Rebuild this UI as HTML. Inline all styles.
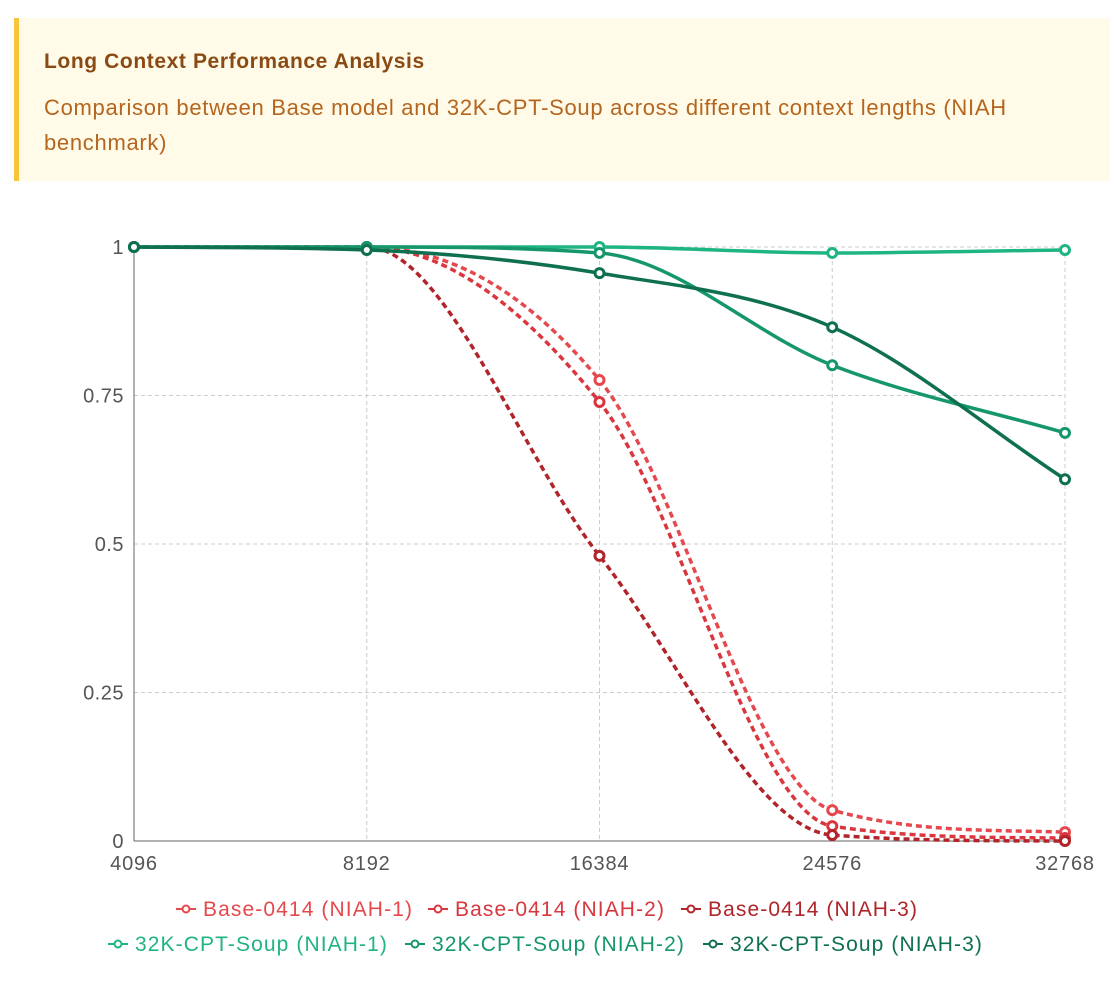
<!DOCTYPE html>
<html><head><meta charset="utf-8">
<style>
body{margin:0;background:#fff;font-family:"Liberation Sans","DejaVu Sans",sans-serif;width:1116px;height:991px;overflow:hidden}
.note{position:absolute;left:14px;top:18px;width:1096px;height:163px;background:#fffbe8;border-left:5px solid #f8c43a;box-sizing:border-box}
.note h1{margin:0;position:absolute;left:25px;top:32px;font-size:21px;letter-spacing:0.6px;font-weight:bold;color:#8a4a14}
.note p{margin:0;position:absolute;left:25px;top:72px;width:1060px;font-size:22px;letter-spacing:0.7px;line-height:35px;color:#b5651d}
svg{position:absolute;left:0;top:0}
</style></head><body>
<div class="note">
<h1>Long Context Performance Analysis</h1>
<p>Comparison between Base model and 32K-CPT-Soup across different context lengths (NIAH<br>benchmark)</p>
</div>
<svg id="chart" width="1116" height="991"></svg>
<script>
const categories=["4096","8192","16384","24576","32768"];
const yTicks=[0,0.25,0.5,0.75,1];
const yTickLabels=["0","0.25","0.5","0.75","1"];
const seriesNames=["Base-0414 (NIAH-1)","Base-0414 (NIAH-2)","Base-0414 (NIAH-3)","32K-CPT-Soup (NIAH-1)","32K-CPT-Soup (NIAH-2)","32K-CPT-Soup (NIAH-3)"];
const base1=[1,1,0.776,0.052,0.015];
const base2=[1,1,0.739,0.025,0.005];
const base3=[1,1,0.48,0.01,0];
const soup1=[1,1,1,0.99,0.995];
const soup2=[1,1,0.99,0.801,0.687];
const soup3=[1,0.995,0.956,0.865,0.609];
const allSeries=[base1,base2,base3,soup1,soup2,soup3];
const colors=["#e5484d","#d9363e","#b0242a","#1fb483","#16976a","#0f7050"];
const dashed=[true,true,true,false,false,false];
const L=134,R=1065,T=247,B=841;
const xs=i=>L+(R-L)*i/(categories.length-1);
const ys=v=>B-(B-T)*v;
const svg=document.getElementById('chart');const NS="http://www.w3.org/2000/svg";
function mk(t,a,p){const e=document.createElementNS(NS,t);for(const k in a)e.setAttribute(k,a[k]);(p||svg).appendChild(e);return e;}
yTicks.forEach((v,i)=>{
 if(v>0){const g=mk('line',{x1:L,x2:R,y1:ys(v),y2:ys(v),stroke:'#ccc','stroke-dasharray':'4 3'});
 }
 const t=mk('text',{x:L-10,y:ys(v)+7,'text-anchor':'end','font-size':20,'letter-spacing':0.5,fill:'#555'});t.textContent=yTickLabels[i];
 
});
categories.forEach((c,i)=>{
 if(i>0){const g=mk('line',{x1:xs(i),x2:xs(i),y1:T,y2:B,stroke:'#ccc','stroke-dasharray':'4 3'});
 }
 const t=mk('text',{x:xs(i),y:B+29,'text-anchor':'middle','font-size':20,'letter-spacing':0.8,fill:'#555'});t.textContent=c;
 
});
const ax=mk('line',{x1:L,x2:R,y1:B,y2:B,stroke:'#666'});
const ay=mk('line',{x1:L,x2:L,y1:T,y2:B,stroke:'#666'});
function pathFor(d){
 const p=d.map((v,i)=>[xs(i),ys(v)]);const n=p.length;
 const dl=[],m=[];
 for(let i=0;i<n-1;i++)dl.push((p[i+1][1]-p[i][1])/(p[i+1][0]-p[i][0]));
 m[0]=dl[0];m[n-1]=dl[n-2];
 for(let i=1;i<n-1;i++){m[i]=(dl[i-1]*dl[i]<=0)?0:(dl[i-1]+dl[i])/2;}
 for(let i=0;i<n-1;i++){if(dl[i]===0){m[i]=0;m[i+1]=0;continue;}
  const a=m[i]/dl[i],b=m[i+1]/dl[i],s=a*a+b*b;if(s>9){const t=3/Math.sqrt(s);m[i]=t*a*dl[i];m[i+1]=t*b*dl[i];}}
 let s=`M${p[0][0]},${p[0][1]}`;
 for(let i=0;i<n-1;i++){const h=(p[i+1][0]-p[i][0])/3;
  s+=` C${p[i][0]+h},${p[i][1]+m[i]*h} ${p[i+1][0]-h},${p[i+1][1]-m[i+1]*h} ${p[i+1][0]},${p[i+1][1]}`;}
 return s;}
allSeries.forEach((d,si)=>{
 const pa=mk('path',{d:pathFor(d),fill:'none',stroke:colors[si],'stroke-width':3.5,'stroke-dasharray':dashed[si]?'6 4':'none'});
 
 d.forEach((v,i)=>{const c=mk('circle',{cx:xs(i),cy:ys(v),r:4.5,fill:'#fff',stroke:colors[si],'stroke-width':3});
  });
});
const legendPos=[[180,909],[432,909],[685,909],[112,944],[409,944],[707,944]];
seriesNames.forEach((n,i)=>{
 const [x,y]=legendPos[i];const g=mk('g',{});
 
 mk('line',{x1:x-4,x2:x+16,y1:y,y2:y,stroke:colors[i],'stroke-width':2},g);
 mk('circle',{cx:x+6,cy:y,r:3.5,fill:'#fff',stroke:colors[i],'stroke-width':2},g);
 const t=mk('text',{x:x+23,y:y+7,'font-size':21,'letter-spacing':1.1,fill:colors[i]},g);t.textContent=n;
});
</script>
</body></html>
